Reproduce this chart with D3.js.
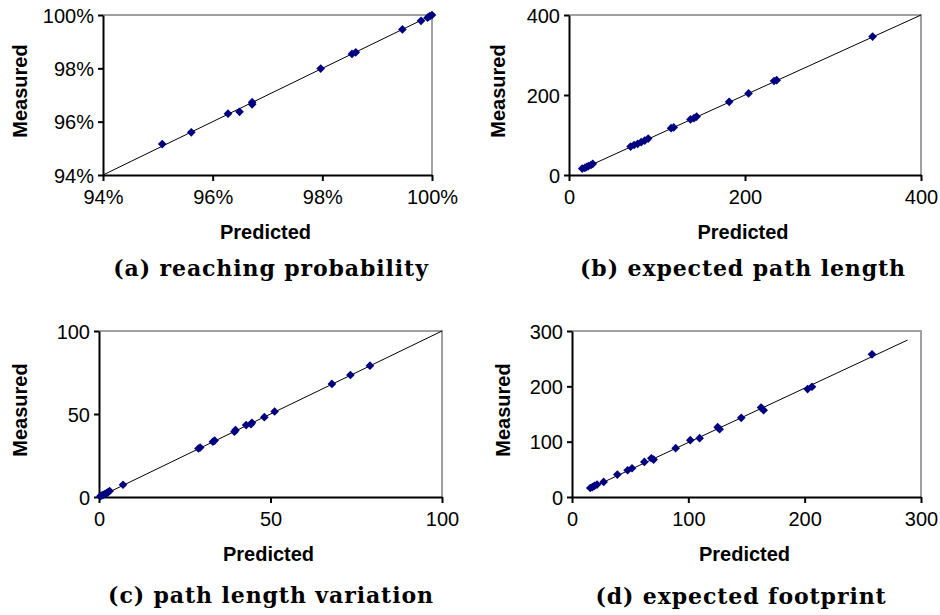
<!DOCTYPE html>
<html>
<head>
<meta charset="utf-8">
<script src="https://cdn.jsdelivr.net/npm/d3@7"></script>
<style>
  body { margin: 0; background: #fff; }
  .tick text { font-family: "Liberation Sans", Arial, sans-serif; font-size: 20px; fill: #000; }
</style>
</head>
<body>
<svg width="940" height="615"></svg>
<script>
// (a) reaching probability, in percent
var predA = [95.08, 95.61, 96.28, 96.49, 96.72, 96.72, 97.97, 98.54, 98.61, 99.46, 99.8, 99.92, 99.96, 100];
var measA = [95.16, 95.6, 96.3, 96.37, 96.73, 96.65, 97.99, 98.54, 98.6, 99.46, 99.78, 99.9, 99.96, 100];
var lineA = [[94, 94], [100, 100]];
var ticksA = [94, 96, 98, 100];

// (b) expected path length
var predB = [15, 18, 20, 22, 25, 27, 70, 74, 78, 82, 86, 90, 116, 119, 138, 142, 145, 182, 204, 233, 236, 345];
var measB = [16, 18, 20, 22, 25, 28, 71, 75, 78, 82, 86, 91, 117, 119, 139, 142, 146, 183, 204, 235, 237, 346];
var lineB = [[14, 14], [400, 400]];
var ticksB = [0, 200, 400];

// (c) path length variation
var predC = [0.4, 0.8, 1.2, 1.7, 2.2, 2.6, 3.1, 7.0, 29.0, 29.5, 33.2, 33.7, 39.5, 39.8, 42.9, 44.3, 44.6, 48.2, 51.2, 67.9, 73.3, 79.0];
var measC = [0.5, 0.9, 1.3, 1.8, 2.3, 2.8, 3.6, 7.4, 29.2, 29.8, 33.3, 34.0, 39.3, 40.3, 43.3, 43.9, 44.7, 48.1, 51.5, 68.1, 73.5, 79.1];
var lineC = [[0, 0], [100, 100]];
var ticksC = [0, 50, 100];

// (d) expected footprint
var predD = [15.7, 17.5, 19.2, 21.5, 27.2, 39, 47.8, 51.6, 62.2, 68.2, 70.2, 89.1, 101.7, 109.7, 125.2, 126.9, 145.5, 162.5, 164.7, 202.5, 206.3, 257.9];
var measD = [16.3, 18, 20, 22.4, 27.2, 40.5, 48.3, 52, 63.4, 70, 67.7, 88.2, 102.7, 106.3, 126.2, 122.6, 143, 161.8, 157, 195, 199.2, 257.8];
var lineD = [[15, 15], [288.5, 283.7]];
var ticksD = [0, 100, 200, 300];

var captions = ['(a) reaching probability', '(b) expected path length',
                '(c) path length variation', '(d) expected footprint'];

var panels = [
    {pred: predA, meas: measA, line: lineA, ticks: ticksA, fmt: function (d) { return d + '%'; },
     box: [103, 432, 15, 175], cap: [271, 268], ylab: [20, 91]},
    {pred: predB, meas: measB, line: lineB, ticks: ticksB, fmt: String,
     box: [569, 921, 15, 175], cap: [743, 268], ylab: [498, 91]},
    {pred: predC, meas: measC, line: lineC, ticks: ticksC, fmt: String,
     box: [99, 442, 331, 497], cap: [271, 595], ylab: [20, 410]},
    {pred: predD, meas: measD, line: lineD, ticks: ticksD, fmt: String,
     box: [572, 921, 331, 497], cap: [741, 596], ylab: [503, 410]}
];

var svg = d3.select('svg');

panels.forEach(function (p, i) {
    var lo = p.ticks[0], hi = p.ticks[p.ticks.length - 1];
    var x = d3.scaleLinear().domain([lo, hi]).range([p.box[0], p.box[1]]);
    var y = d3.scaleLinear().domain([lo, hi]).range([p.box[3], p.box[2]]);
    var g = svg.append('g');

    // grey frame on top and right
    g.append('path')
        .attr('d', 'M' + x(lo) + ',' + y(hi) + 'H' + x(hi) + 'V' + y(lo))
        .attr('fill', 'none')
        .attr('stroke', '#a0a0a0')
        .attr('stroke-width', 2);

    var xa = g.append('g')
        .attr('transform', 'translate(0,' + y(lo) + ')')
        .call(d3.axisBottom(x).tickValues(p.ticks).tickFormat(p.fmt).tickSize(6).tickSizeOuter(0).tickPadding(9));
    var ya = g.append('g')
        .attr('transform', 'translate(' + x(lo) + ',0)')
        .call(d3.axisLeft(y).tickValues(p.ticks).tickFormat(p.fmt).tickSize(5).tickSizeOuter(0).tickPadding(4));
    [xa, ya].forEach(function (a) {
        a.select('.domain').attr('stroke', '#000').attr('stroke-width', 2);
        a.selectAll('.tick line').attr('stroke', '#000').attr('stroke-width', 2);
    });
    ya.selectAll('.tick text').attr('dy', '0.36em');

    g.append('line')
        .attr('x1', x(p.line[0][0])).attr('y1', y(p.line[0][1]))
        .attr('x2', x(p.line[1][0])).attr('y2', y(p.line[1][1]))
        .attr('stroke', '#000')
        .attr('stroke-width', 1);

    g.selectAll('path.pt')
        .data(d3.range(p.pred.length))
        .enter()
        .append('path')
        .attr('class', 'pt')
        .attr('d', d3.symbol().type(d3.symbolDiamond2).size(48))
        .attr('transform', function (k) { return 'translate(' + x(p.pred[k]) + ',' + y(p.meas[k]) + ')'; })
        .attr('fill', '#000080');

    g.append('text')
        .attr('x', (p.box[0] + p.box[1]) / 2 - 2)
        .attr('y', p.box[3] + 57)
        .attr('text-anchor', 'middle')
        .attr('dominant-baseline', 'central')
        .style('font-family', '"Liberation Sans", Arial, sans-serif')
        .style('font-weight', 'bold')
        .style('font-size', '20px')
        .text('Predicted');

    g.append('text')
        .attr('transform', 'translate(' + p.ylab[0] + ',' + p.ylab[1] + ') rotate(-90)')
        .attr('text-anchor', 'middle')
        .attr('dominant-baseline', 'central')
        .style('font-family', '"Liberation Sans", Arial, sans-serif')
        .style('font-weight', 'bold')
        .style('font-size', '20px')
        .text('Measured');

    g.append('text')
        .attr('x', p.cap[0])
        .attr('y', p.cap[1])
        .attr('text-anchor', 'middle')
        .attr('dominant-baseline', 'central')
        .style('font-family', '"DejaVu Serif", serif')
        .style('font-weight', 'bold')
        .style('font-size', '22px')
        .style('letter-spacing', '0.9px')
        .text(captions[i]);
});
</script>
</body>
</html>
